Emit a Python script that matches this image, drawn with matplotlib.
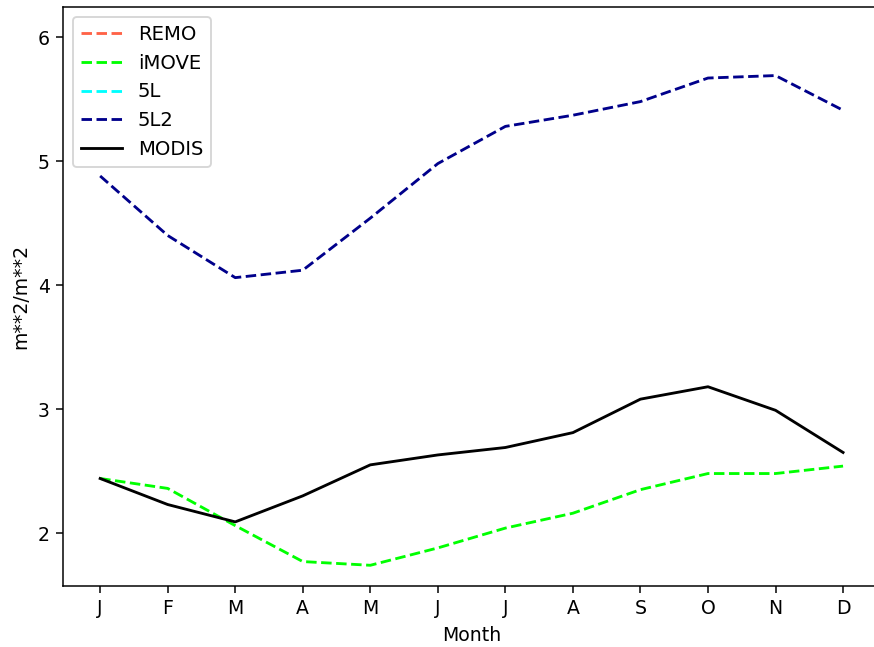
import numpy as np
from matplotlib import pyplot as plt

# месяцы
months = ['J', 'F', 'M', 'A', 'M', 'J', 'J', 'A', 'S', 'O', 'N', 'D']

# значения LAI по моделям (REMO и 5L на картинке не видны)
remo = [np.nan] * 12
imove = [2.44, 2.36, 2.06, 1.77, 1.74, 1.88, 2.04, 2.16, 2.35, 2.48, 2.48, 2.54]
fiveL = [np.nan] * 12
fiveL2 = [4.88, 4.40, 4.06, 4.12, 4.54, 4.98, 5.28, 5.37, 5.48, 5.67, 5.69, 5.41]
modis = [2.44, 2.23, 2.09, 2.30, 2.55, 2.63, 2.69, 2.81, 3.08, 3.18, 2.99, 2.65]

x = np.arange(len(months))

fig = plt.figure(figsize=(874 / 136, 647 / 136), dpi=136)
ax = fig.add_axes([0.0721, 0.0943, 0.935, 0.8947])

ax.plot(x, remo, '--', color='tomato', label='REMO')
ax.plot(x, imove, '--', color='lime', label='iMOVE')
ax.plot(x, fiveL, '--', color='cyan', label='5L')
ax.plot(x, fiveL2, '--', color='darkblue', label='5L2')
ax.plot(x, modis, '-', color='black', label='MODIS')

ax.set_xticks(x)
ax.set_xticklabels(months)
ax.set_xlim(-0.55, 11.55)
ax.set_ylim(1.573, 6.242)
ax.set_yticks([2, 3, 4, 5, 6])
ax.set_xlabel('Month')
ax.set_ylabel('m**2/m**2')
ax.legend(loc='upper left', fontsize=10.4, handlelength=2.1)

fig.savefig('out.png', dpi=136)
